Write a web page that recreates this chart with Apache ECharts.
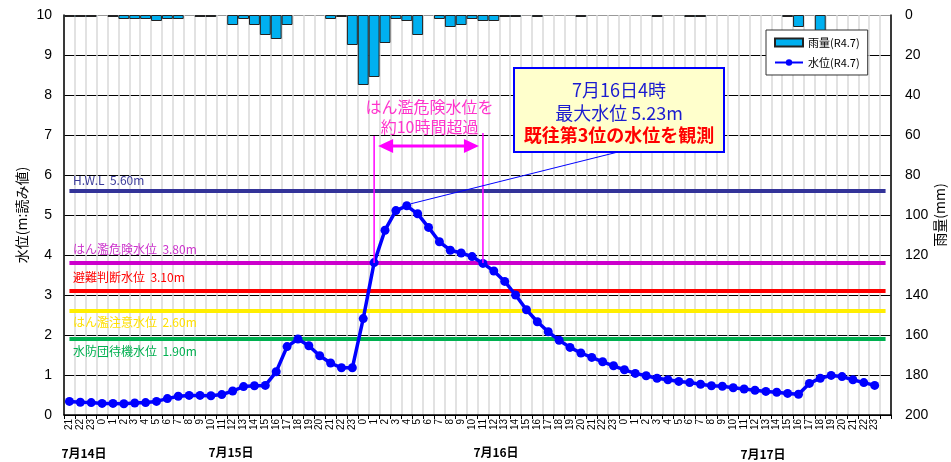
<!DOCTYPE html>
<html><head><meta charset="utf-8">
<script src="https://cdn.jsdelivr.net/npm/echarts@6/dist/echarts.min.js"></script>
<style>html,body{margin:0;padding:0;background:#fff}#c{width:951px;height:462px}</style>
</head><body><div id="c"></div>
<script>
// ---- data ----
const hours = ['21','22','23',
 '0','1','2','3','4','5','6','7','8','9','10','11','12','13','14','15','16','17','18','19','20','21','22','23',
 '0','1','2','3','4','5','6','7','8','9','10','11','12','13','14','15','16','17','18','19','20','21','22','23',
 '0','1','2','3','4','5','6','7','8','9','10','11','12','13','14','15','16','17','18','19','20','21','22','23',
 ''];
const rain = [1,1,1,
 0,1,2,2,2,3,2,2,0,1,1,0,5,2,5,10,12,5,0,0,0,2,1,15,
 35,31,14,2,3,10,0,2,6,5,2,3,3,1,1,0,1,0,0,0,1,0,0,0,
 0,0,0,1,0,0,1,1,0,0,0,0,0,0,0,1,6,0,8,0,0,0,0,0,
 0];
const level = [0.34,0.32,0.31,
 0.29,0.29,0.28,0.30,0.31,0.34,0.41,0.47,0.49,0.49,0.48,0.51,0.60,0.71,0.73,0.74,1.08,1.71,1.90,1.73,1.48,1.30,1.18,1.18,
 2.41,3.81,4.62,5.11,5.23,5.03,4.69,4.33,4.12,4.05,3.96,3.79,3.60,3.34,3.00,2.63,2.33,2.08,1.87,1.69,1.55,1.44,1.33,1.23,
 1.13,1.04,0.98,0.92,0.88,0.84,0.81,0.77,0.73,0.72,0.68,0.65,0.62,0.59,0.57,0.54,0.52,0.79,0.92,0.99,0.96,0.88,0.81,0.74,
 null];
const thresholdNames = ['H.W.L','はん濫危険水位','避難判断水位','はん濫注意水位','水防団待機水位'];
const thresholdValues = [5.60, 3.80, 3.10, 2.60, 1.90];
const dateLabels = ['7月14日','7月15日','7月16日','7月17日'];
const exceedRange = [28, 38];
const calloutLines = ['7月16日4時','最大水位 5.23m','既往第3位の水位を観測'];
const exceedText = ['はん濫危険水位を','約10時間超過'];

// ---- styles ----
const FONT = '"Liberation Sans", "Noto Sans CJK JP", sans-serif';
const JFONT = '"Noto Sans CJK JP", "Liberation Sans", sans-serif';
const thresholdColors = ['#333399','#cc00cc','#ff0000','#ffee00','#00b050'];
const thresholdLabelColors = ['#3a3a99','#cc33cc','#ff0000','#ffe000','#00b050'];
const thresholdLabelOffset = [-10,-13,-13,12,13];

const chart = echarts.init(document.getElementById('c'));
const thresholdSeries = thresholdValues.map((v,i)=>({
  type:'line', yAxisIndex:0, data: hours.map(()=>v), symbol:'none', silent:true,
  lineStyle:{color:thresholdColors[i], width:4}, z:3
}));
const yColors = Array(11).fill('#000'); yColors[10]='#999';
const option = {
  animation:false,
  grid:{left:64, right:60, top:15, bottom:47, containLabel:false, outerBoundsMode:'none'},
  legend:{
    data:[{name:'雨量(R4.7)', icon:'rect'}, {name:'水位(R4.7)'}],
    orient:'vertical', left:766, top:30, padding:[7,8,7,8], itemGap:9,
    itemWidth:28, itemHeight:8, backgroundColor:'#fff', borderColor:'#333', borderWidth:1,
    textStyle:{fontSize:11, fontFamily:JFONT, color:'#000'}
  },
  xAxis:{
    type:'category', data:hours, boundaryGap:true,
    axisLine:{lineStyle:{color:'#000', width:1.5}},
    axisTick:{show:true, interval:0, length:4, lineStyle:{color:'#000'}},
    axisLabel:{interval:0, rotate:90, fontSize:10, color:'#000', margin:4, fontFamily:FONT},
    splitLine:{show:true, interval:0, lineStyle:{color:'#d9d9d9', width:1.5}}
  },
  yAxis:[
    {type:'value', min:0, max:10, interval:1, name:'水位(m:読み値)', nameLocation:'middle', nameGap:35, nameMoveOverlap:false,
     nameTextStyle:{fontSize:14, fontFamily:JFONT, color:'#000'},
     axisLine:{show:true, lineStyle:{color:'#000', width:1.5}}, axisTick:{show:false},
     axisLabel:{fontSize:14, color:'#000', margin:12, fontFamily:FONT},
     splitLine:{show:true, lineStyle:{color:yColors, width:1}}},
    {type:'value', min:0, max:200, interval:20, inverse:true, position:'right', name:'雨量(mm)', nameLocation:'middle', nameGap:42, nameMoveOverlap:false,
     nameTextStyle:{fontSize:14, fontFamily:JFONT, color:'#000'},
     axisLine:{show:true, lineStyle:{color:'#000', width:1.5}}, axisTick:{show:false},
     axisLabel:{fontSize:14, color:'#000', margin:14, fontFamily:FONT},
     splitLine:{show:false}}
  ],
  series:[
    {name:'雨量(R4.7)', type:'bar', yAxisIndex:1, data:rain.map(v=>v>0?v:'-'), barCategoryGap:'0%',
     itemStyle:{color:'#00b0f0', borderColor:'#222', borderWidth:1}, z:2},
    ...thresholdSeries,
    {name:'水位(R4.7)', type:'line', yAxisIndex:0, data:level, symbol:'circle', symbolSize:9,
     lineStyle:{color:'#0000ff', width:3.5}, itemStyle:{color:'#0000ff'}, z:5}
  ]
};
chart.setOption(option);

const levelSeriesIndex = option.series.length-1;
const px = (ci,v)=>chart.convertToPixel({seriesIndex:levelSeriesIndex},[ci,v]);
const g = [];
// threshold labels
thresholdValues.forEach((v,i)=>{
  const p = px(0,v);
  g.push({type:'text', left:73, top:p[1]+thresholdLabelOffset[i]-7, z:10, silent:true,
    style:{text:thresholdNames[i]+'  '+v.toFixed(2)+'m', fill:thresholdLabelColors[i], font:'12px '+JFONT}});
});
// date labels
const datePos = [[84,453],[231,452],[496,452],[763,454]];
dateLabels.forEach((t,i)=>{
  g.push({type:'text', x:datePos[i][0], y:datePos[i][1], z:10, silent:true,
    style:{text:t, fill:'#000', font:'bold 12px '+JFONT, textAlign:'center', textVerticalAlign:'middle'}});
});
// exceedance annotation
const xs = px(exceedRange[0], 3.8), xe = px(exceedRange[1], 3.8);
const topY = 136, arrowY = 146;
g.push({type:'line', z:6, silent:true, shape:{x1:xs[0],y1:topY,x2:xs[0],y2:xs[1]}, style:{stroke:'#ff00ff', lineWidth:1.5}});
g.push({type:'line', z:6, silent:true, shape:{x1:xe[0],y1:topY-3,x2:xe[0],y2:xe[1]}, style:{stroke:'#ff00ff', lineWidth:1.5}});
const a1 = xs[0]+4, a2 = xe[0]-4;
g.push({type:'line', z:6, silent:true, shape:{x1:a1+12,y1:arrowY,x2:a2-12,y2:arrowY}, style:{stroke:'#ff00ff', lineWidth:3}});
g.push({type:'polygon', z:6, silent:true, shape:{points:[[a1,arrowY],[a1+15,arrowY-7],[a1+15,arrowY+7]]}, style:{fill:'#ff00ff'}});
g.push({type:'polygon', z:6, silent:true, shape:{points:[[a2,arrowY],[a2-15,arrowY-7],[a2-15,arrowY+7]]}, style:{fill:'#ff00ff'}});
const midX = (xs[0]+xe[0])/2+1;
g.push({type:'text', x:midX, y:107, z:10, silent:true, style:{text:exceedText[0], fill:'#ff33cc', font:'16px '+JFONT, textAlign:'center', textVerticalAlign:'middle'}});
g.push({type:'text', x:midX, y:127, z:10, silent:true, style:{text:exceedText[1], fill:'#ff33cc', font:'16px '+JFONT, textAlign:'center', textVerticalAlign:'middle'}});
// callout
let peakIdx = 0; level.forEach((v,i)=>{ if(v!==null && v>level[peakIdx]) peakIdx=i; });
const pk = px(peakIdx, level[peakIdx]);
const box = {x:514, y:68, w:210, h:84};
g.push({type:'line', z:7, silent:true, shape:{x1:pk[0]+4,y1:pk[1]-2,x2:box.x+104,y2:box.y+box.h}, style:{stroke:'#0000ff', lineWidth:1}});
g.push({type:'rect', z:8, silent:true, shape:{x:box.x,y:box.y,width:box.w,height:box.h}, style:{fill:'#ffffcc', stroke:'#0000ff', lineWidth:2}});
const cx = box.x+box.w/2;
g.push({type:'text', x:cx, y:90, z:9, silent:true, style:{text:calloutLines[0], fill:'#1a1ad0', font:'18px '+JFONT, textAlign:'center', textVerticalAlign:'middle'}});
g.push({type:'text', x:cx, y:113, z:9, silent:true, style:{text:calloutLines[1], fill:'#1a1ad0', font:'18px '+JFONT, textAlign:'center', textVerticalAlign:'middle'}});
g.push({type:'text', x:cx, y:135, z:9, silent:true, style:{text:calloutLines[2], fill:'#ff0000', font:'bold 18px '+JFONT, textAlign:'center', textVerticalAlign:'middle'}});
chart.setOption({graphic:g});
</script>
</body></html>
